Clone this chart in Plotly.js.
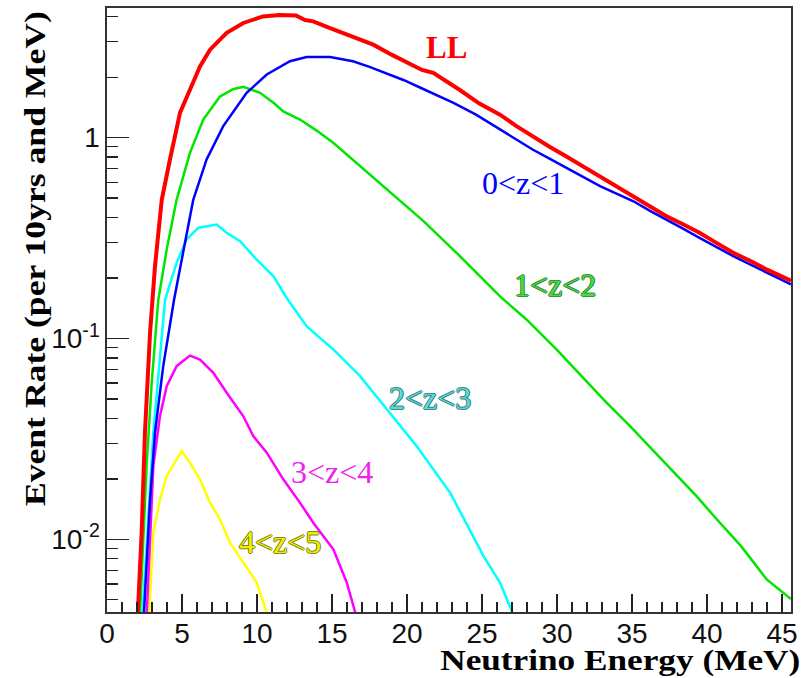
<!DOCTYPE html>
<html>
<head>
<meta charset="utf-8">
<script src="https://cdn.plot.ly/plotly-3.0.1.min.js"></script>
<style>
  html, body { margin: 0; padding: 0; background: #fff; }
  #chart { width: 811px; height: 678px; }
</style>
</head>
<body>
<div id="chart"></div>
<script>
// Neutrino event-rate spectra (per 10 yrs and MeV), total and by redshift slice
const energyLL = [2.0, 2.31, 2.53, 2.87, 3.2, 3.65, 4.2, 4.87, 5.53, 6.2, 6.87, 7.98, 9.09, 10.4, 11.5, 12.6, 13.2, 13.75, 14.7, 15.75, 16.8, 17.75, 19.0, 20.2, 21.0, 21.75, 22.6, 23.5, 24.8, 26.2, 27.3, 28.4, 29.5, 30.6, 31.7, 32.87, 34.0, 35.1, 36.2, 37.3, 38.4, 39.5, 40.6, 41.75, 42.9, 44.0, 45.6];
const rateLL   = [0.0035, 0.0108, 0.034, 0.107, 0.229, 0.49, 0.78, 1.33, 1.73, 2.26, 2.74, 3.32, 3.72, 4.01, 4.08, 4.05, 3.85, 3.79, 3.55, 3.32, 3.10, 2.90, 2.58, 2.31, 2.17, 2.10, 1.92, 1.73, 1.48, 1.30, 1.14, 1.01, 0.90, 0.807, 0.72, 0.642, 0.57, 0.51, 0.455, 0.406, 0.37, 0.336, 0.30, 0.267, 0.243, 0.22, 0.194];

const energyZ01 = [2.4, 2.87, 3.2, 3.75, 4.47, 5.09, 5.75, 6.64, 7.75, 9.31, 10.65, 12.2, 13.3, 14.87, 16.4, 17.5, 18.6, 19.8, 20.9, 22.0, 23.1, 24.6, 26.2, 27.3, 28.4, 29.5, 30.6, 31.7, 32.87, 34.0, 35.1, 36.2, 37.3, 38.4, 39.5, 40.6, 41.75, 42.9, 44.0, 45.6];
const rateZ01   = [0.0035, 0.0158, 0.034, 0.073, 0.156, 0.277, 0.49, 0.778, 1.14, 1.67, 2.06, 2.40, 2.52, 2.52, 2.40, 2.25, 2.10, 1.93, 1.77, 1.62, 1.49, 1.30, 1.10, 0.98, 0.87, 0.785, 0.707, 0.64, 0.573, 0.525, 0.482, 0.432, 0.391, 0.352, 0.317, 0.285, 0.257, 0.233, 0.212, 0.186];

const energyZ12 = [2.15, 2.64, 2.98, 3.42, 3.98, 4.64, 5.53, 6.42, 7.53, 8.4, 9.09, 9.6, 10.2, 11.1, 11.75, 12.87, 14.0, 15.1, 16.87, 18.9, 21.1, 23.3, 26.2, 27.98, 29.98, 31.75, 33.3, 34.87, 36.65, 39.3, 40.65, 42.3, 43.98, 45.6];
const rateZ12   = [0.0035, 0.0232, 0.06, 0.156, 0.277, 0.49, 0.84, 1.23, 1.60, 1.74, 1.79, 1.74, 1.67, 1.49, 1.35, 1.23, 1.08, 0.94, 0.72, 0.531, 0.384, 0.267, 0.162, 0.124, 0.088, 0.0637, 0.048, 0.0366, 0.0265, 0.0164, 0.0126, 0.0092, 0.00632, 0.00505];

const energyZ23 = [2.3, 3.09, 3.87, 4.64, 5.31, 6.09, 7.31, 7.98, 8.87, 9.98, 11.1, 11.98, 13.3, 15.1, 16.87, 18.65, 20.65, 22.87, 25.1, 26.2, 27.1];
const rateZ23   = [0.0035, 0.034, 0.156, 0.238, 0.311, 0.356, 0.369, 0.336, 0.305, 0.247, 0.204, 0.159, 0.115, 0.088, 0.0649, 0.0443, 0.0291, 0.0171, 0.00826, 0.0061, 0.0042];

const energyZ34 = [2.6, 3.09, 3.53, 3.98, 4.64, 5.53, 6.2, 7.09, 7.98, 9.09, 9.75, 10.65, 11.75, 12.87, 13.75, 15.1, 15.98, 16.6];
const rateZ34   = [0.0035, 0.0232, 0.041, 0.0579, 0.0728, 0.0822, 0.0786, 0.0675, 0.0537, 0.041, 0.0327, 0.027, 0.0199, 0.0152, 0.0121, 0.0089, 0.0061, 0.0042];

const energyZ45 = [2.75, 3.09, 3.53, 3.98, 4.98, 5.53, 6.2, 6.87, 7.53, 8.2, 9.09, 9.98, 10.7];
const rateZ45   = [0.0035, 0.0108, 0.0158, 0.0207, 0.0275, 0.0241, 0.0199, 0.0152, 0.0126, 0.00964, 0.00766, 0.0061, 0.0042];

const seriesNames = ['LL', '0<z<1', '1<z<2', '2<z<3', '3<z<4', '4<z<5'];

const xTickVals = [0, 5, 10, 15, 20, 25, 30, 35, 40, 45];
const yTickVals = [0.01, 0.1, 1];
const yTickText = ['10<sup>-2</sup>', '10<sup>-1</sup>', '1'];

// minor ticks on the log axis: 2..9 within each decade
const yMinorVals = [];
[0.001, 0.01, 0.1, 1].forEach(d => { for (let m = 2; m <= 9; m++) yMinorVals.push(d * m); });

const serif = 'Liberation Serif, Times New Roman, serif';
const sans = 'Liberation Sans, Arial, Helvetica, sans-serif';

function line(x, y, name, color, width) {
  return { x: x, y: y, name: name, type: 'scatter', mode: 'lines',
           line: { color: color, width: width, shape: 'linear' }, hoverinfo: 'skip' };
}

const traces = [
  line(energyZ45, rateZ45, seriesNames[5], '#ffff00', 2.5),
  line(energyZ34, rateZ34, seriesNames[4], '#ff00ff', 2.5),
  line(energyZ23, rateZ23, seriesNames[3], '#00ffff', 2.5),
  line(energyZ12, rateZ12, seriesNames[2], '#00e600', 2.5),
  line(energyZ01, rateZ01, seriesNames[1], '#0000ff', 2.5),
  line(energyLL,  rateLL,  seriesNames[0], '#ff0000', 4)
];

function label(text, x, y, color, size, bold, shadow) {
  return { text: text, xref: 'paper', yref: 'paper', x: x, y: y,
           xanchor: 'center', yanchor: 'middle', showarrow: false,
           font: { family: serif, size: size, color: color,
                   weight: bold ? 'bold' : 'normal', shadow: shadow || 'none' } };
}

const outline = c => `1px 0 0 ${c}, -1px 0 0 ${c}, 0 1px 0 ${c}, 0 -1px 0 ${c}`;

const annotations = [
  label(seriesNames[0], 0.496, 0.9338, '#ff0000', 31, true),
  label(seriesNames[1], 0.608, 0.7103, '#0000ff', 32, false),
  label(seriesNames[2], 0.655, 0.5414, '#44dd44', 32, false, outline('rgba(20,110,20,0.8)')),
  label(seriesNames[3], 0.4722, 0.3543, '#55dddd', 32, false, outline('rgba(20,100,100,0.8)')),
  label(seriesNames[4], 0.3289, 0.2318, '#ee22ee', 32, false),
  label(seriesNames[5], 0.2529, 0.1159, '#eeee00', 32, false, outline('rgba(110,110,0,0.85)')),
  // axis titles
  { text: 'Neutrino Energy (MeV)', xref: 'paper', yref: 'paper', x: 0.7500, y: -0.0810,
    xanchor: 'center', yanchor: 'middle', showarrow: false,
    font: { family: serif, size: 29, color: '#000', weight: 'bold' } },
  { text: 'Event Rate (per 10yrs and MeV)', xref: 'paper', yref: 'paper', x: -0.1053, y: 0.586,
    xanchor: 'center', yanchor: 'middle', showarrow: false, textangle: -90,
    font: { family: serif, size: 30, color: '#000', weight: 'bold' } }
];

const layout = {
  width: 811, height: 678,
  margin: { l: 107, r: 20, t: 8, b: 66, pad: 0 },
  paper_bgcolor: '#ffffff', plot_bgcolor: '#ffffff',
  showlegend: false,
  xaxis: {
    range: [0, 45.6], tickmode: 'array', tickvals: xTickVals,
    ticks: 'inside', ticklen: 18, tickwidth: 1.3, tickcolor: '#222',
    minor: { ticks: 'inside', ticklen: 10, tickwidth: 1.2, tickcolor: '#222', dtick: 1, showgrid: false },
    showgrid: false, zeroline: false,
    showline: true, mirror: true, linecolor: '#333', linewidth: 1.6,
    tickfont: { family: sans, size: 28, color: '#111' }, ticklabelstandoff: -4
  },
  yaxis: {
    type: 'log', range: [Math.log10(0.00435), 0.645],
    tickmode: 'array', tickvals: yTickVals, ticktext: yTickText,
    ticks: 'inside', ticklen: 22, tickwidth: 1.3, tickcolor: '#222',
    minor: { ticks: 'inside', ticklen: 11, tickwidth: 1.2, tickcolor: '#222',
             tickmode: 'array', tickvals: yMinorVals, showgrid: false },
    showgrid: false, zeroline: false,
    showline: true, mirror: true, linecolor: '#333', linewidth: 1.6,
    tickfont: { family: sans, size: 28, color: '#111' }, ticklabelstandoff: 0
  },
  annotations: annotations
};

Plotly.newPlot('chart', traces, layout, { staticPlot: true, displayModeBar: false }).then(gd => {
  // widen the bold axis titles to their set lengths
  const lengths = { 'Neutrino Energy (MeV)': 360, 'Event Rate (per 10yrs and MeV)': 495 };
  gd.querySelectorAll('.annotation-text').forEach(t => {
    const L = lengths[t.textContent];
    if (L) { t.setAttribute('textLength', L); t.setAttribute('lengthAdjust', 'spacingAndGlyphs'); }
  });
});
</script>
</body>
</html>
